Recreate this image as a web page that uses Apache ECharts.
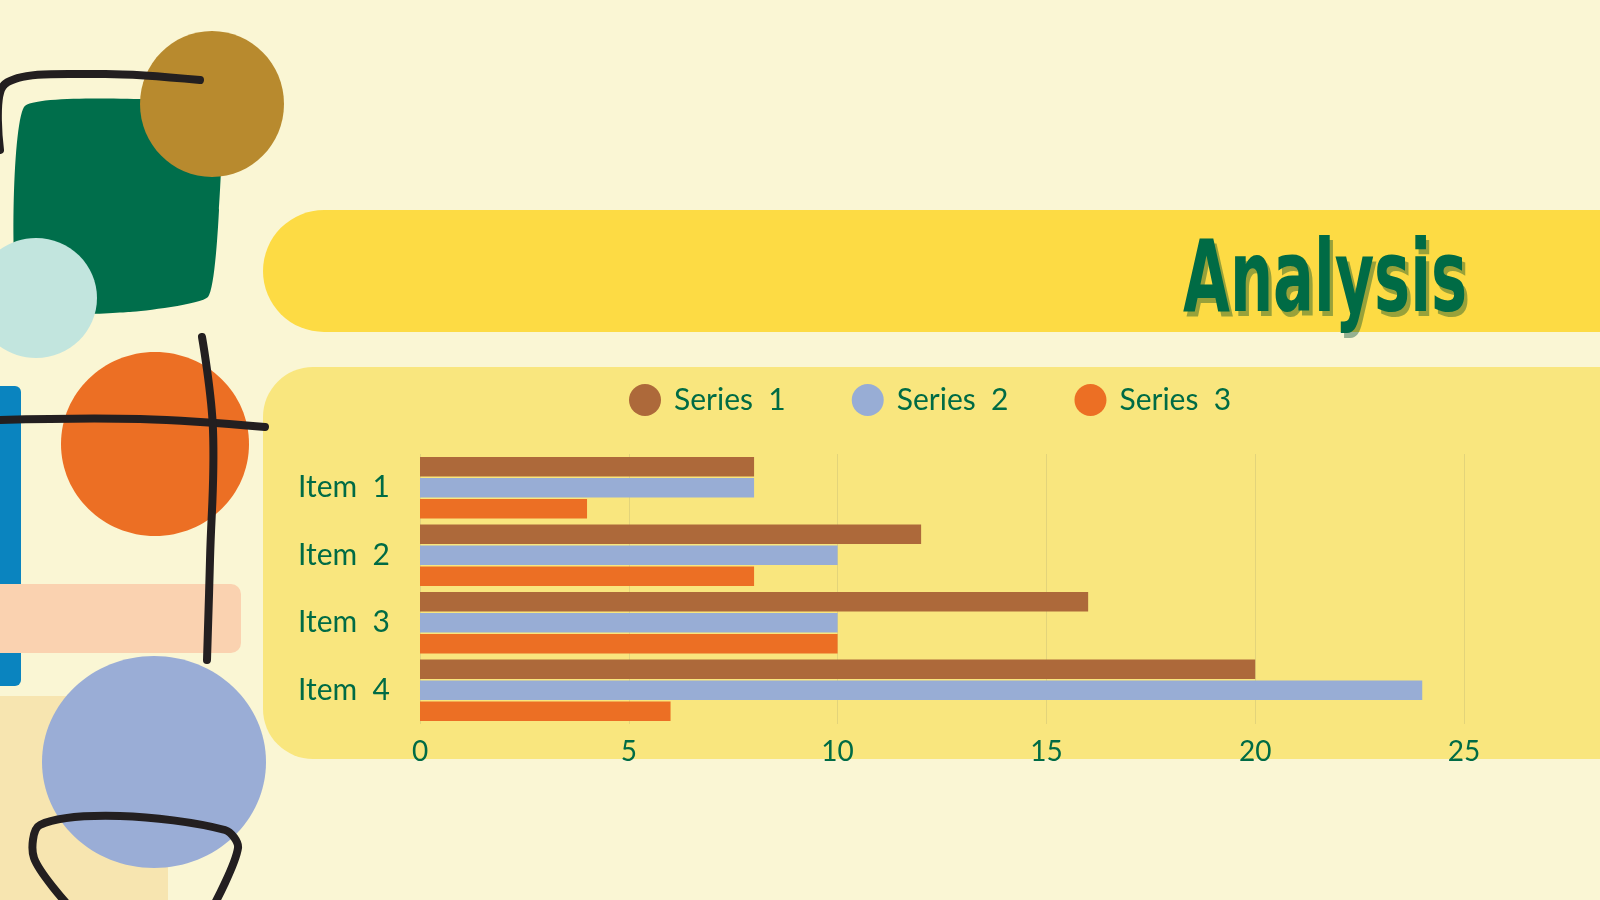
<!DOCTYPE html>
<html>
<head>
<meta charset="utf-8">
<title>Analysis</title>
<script src="https://cdn.jsdelivr.net/npm/echarts@6/dist/echarts.min.js"></script>
<style>
  html, body { margin: 0; padding: 0; background: #FAF6D4; }
  #main { width: 1600px; height: 900px; }
</style>
</head>
<body>
<div id="main"></div>
<script>
// data
var items = ['Item 1', 'Item 2', 'Item 3', 'Item 4'];
var seriesNames = ['Series 1', 'Series 2', 'Series 3'];
var series1 = [8, 12, 16, 20];
var series2 = [8, 10, 10, 24];
var series3 = [4, 8, 10, 6];
var xTicks = [0, 5, 10, 15, 20, 25];

var green = '#006B45';
var colors = ['#AD693A', '#98ADD5', '#EC6F24'];
var font = 'Lato, "Noto Sans", sans-serif';

// squeeze the title into the width it has in the picture
var titleFont = 'bold 100px "DejaVu Sans Condensed", "DejaVu Sans", sans-serif';
var mctx = document.createElement('canvas').getContext('2d');
mctx.font = titleFont;
var titleScale = 284 / mctx.measureText('Analysis').width;

var ink = { stroke: '#231F20', lineWidth: 8, lineCap: 'round', lineJoin: 'round', fill: null };

var chart = echarts.init(document.getElementById('main'));

chart.setOption({
  backgroundColor: '#FAF6D4',
  color: colors,
  textStyle: { fontFamily: font },
  graphic: [
    // panels
    { type: 'rect', z: -10, shape: { x: 263, y: 210, width: 1400, height: 122, r: 61 }, style: { fill: '#FDDB44' } },
    { type: 'rect', z: -10, shape: { x: 263, y: 367, width: 1400, height: 392, r: 50 }, style: { fill: '#F9E67E' } },
    // left decorations
    { type: 'rect', z: -10, shape: { x: 0, y: 696, width: 168, height: 204 }, style: { fill: '#F7E5B0' } },
    { type: 'polygon', z: -9, shape: { points: [[24, 107], [150, 99], [219, 104], [219, 210], [208, 297], [130, 312], [20, 308]], smooth: 0.15 }, style: { fill: '#006E4B' } },
    { type: 'ellipse', z: -8, shape: { cx: 212, cy: 104, rx: 72, ry: 73 }, style: { fill: '#B88A2E' } },
    { type: 'ellipse', z: -8, shape: { cx: 36, cy: 298, rx: 61, ry: 60 }, style: { fill: '#C2E5DE' } },
    { type: 'rect', z: -9, shape: { x: -10, y: 386, width: 31, height: 300, r: 6 }, style: { fill: '#0A84BF' } },
    { type: 'ellipse', z: -8, shape: { cx: 155, cy: 444, rx: 94, ry: 92 }, style: { fill: '#EC6F24' } },
    { type: 'rect', z: -8, shape: { x: -10, y: 584, width: 251, height: 69, r: 10 }, style: { fill: '#FAD2B0' } },
    { type: 'ellipse', z: -7, shape: { cx: 154, cy: 762, rx: 112, ry: 106 }, style: { fill: '#9AADD6' } },
    // ink lines
    { type: 'polyline', z: -6, shape: { points: [[0, 150], [5, 84], [100, 74], [200, 80]], smooth: 0.3 }, style: ink },
    { type: 'polyline', z: -6, shape: { points: [[0, 420], [140, 419], [265, 427]], smooth: 0.4 }, style: ink },
    { type: 'polyline', z: -6, shape: { points: [[202, 337], [213, 430], [210, 560], [207, 660]], smooth: 0.4 }, style: ink },
    { type: 'polyline', z: -6, shape: { points: [[68, 905], [34, 858], [40, 825], [120, 816], [225, 830], [238, 848], [214, 905]], smooth: 0.3 }, style: ink },
    // title
    {
      type: 'text', z: 5, x: 1183, y: 285, scaleX: titleScale,
      style: { text: 'Analysis', x: 5, y: 5, fill: 'rgba(0, 75, 45, 0.4)', font: titleFont, textAlign: 'left', textVerticalAlign: 'middle' }
    },
    {
      type: 'text', z: 6, x: 1183, y: 285, scaleX: titleScale,
      style: { text: 'Analysis', x: 0, y: 0, fill: '#006B45', font: titleFont, textAlign: 'left', textVerticalAlign: 'middle' }
    }
  ],
  legend: {
    data: seriesNames,
    left: 624,
    top: 379,
    icon: 'circle',
    itemWidth: 32,
    itemHeight: 32,
    itemGap: 66,
    formatter: function (name) { return name.replace(' ', '  '); },
    textStyle: { color: green, fontSize: 30, fontFamily: font, padding: [0, 0, 0, 8] }
  },
  grid: { left: 420, right: 136, top: 454, height: 270, containLabel: false },
  xAxis: {
    type: 'value',
    min: xTicks[0],
    max: xTicks[xTicks.length - 1],
    interval: 5,
    axisLine: { show: false },
    axisTick: { show: false },
    axisLabel: { color: green, fontSize: 28, fontFamily: font, margin: 14 },
    splitLine: { show: true, lineStyle: { color: '#E3D47A', width: 1 } }
  },
  yAxis: {
    type: 'category',
    data: items,
    inverse: true,
    axisLine: { show: false },
    axisTick: { show: false },
    axisLabel: {
      color: green, fontSize: 30, fontFamily: font, margin: 30,
      formatter: function (v) { return v.replace(' ', '  '); }
    },
    splitLine: { show: false }
  },
  series: [
    { name: seriesNames[0], type: 'bar', data: series1, barGap: '8%', barCategoryGap: '9%' },
    { name: seriesNames[1], type: 'bar', data: series2, barGap: '8%', barCategoryGap: '9%' },
    { name: seriesNames[2], type: 'bar', data: series3, barGap: '8%', barCategoryGap: '9%' }
  ]
});
</script>
</body>
</html>
